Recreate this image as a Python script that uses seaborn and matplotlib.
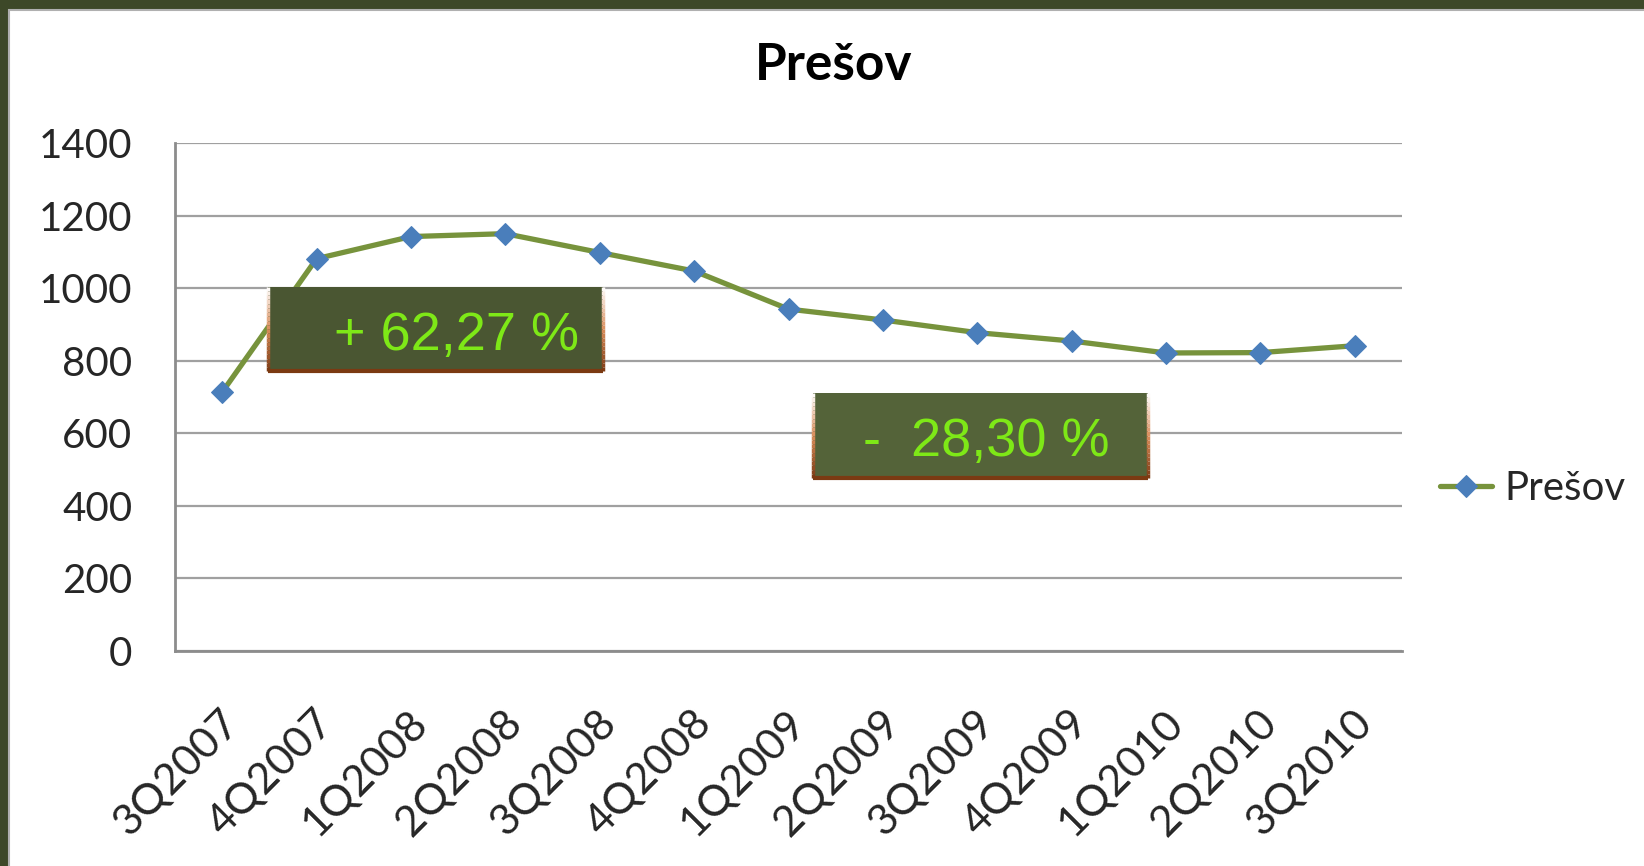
import numpy as np
import pandas as pd
import matplotlib
matplotlib.use("Agg")
import matplotlib.pyplot as plt
import seaborn as sns
from matplotlib.patches import Rectangle
from matplotlib.collections import LineCollection
import matplotlib.transforms as mtransforms

# ---- data ----
quarters = ["3Q2007", "4Q2007", "1Q2008", "2Q2008", "3Q2008", "4Q2008", "1Q2009",
            "2Q2009", "3Q2009", "4Q2009", "1Q2010", "2Q2010", "3Q2010"]
values = [713, 1081, 1142, 1150, 1098, 1047, 942, 912, 877, 854, 821, 822, 841]
series_name = "Prešov"
y_ticks = [0, 200, 400, 600, 800, 1000, 1200, 1400]
note_up = "+ 62,27 %"
note_down = "-  28,30 %"

sns.set_theme(style="white")
plt.rcParams["font.family"] = ["Lato", "DejaVu Sans"]

W, H = 1644, 866
fig = plt.figure(figsize=(W / 100, H / 100), dpi=100)
fig.patch.set_facecolor("#3d4828")

# white panel
fig.patches.append(Rectangle((9 / W, -0.05), 1.1, (H - 10) / H + 0.05, transform=fig.transFigure,
                             facecolor="white", edgecolor="#b0b0b0", linewidth=1.5, zorder=-5))

ax = fig.add_axes([175 / W, (H - 650.7) / H, (1402 - 175) / W, (650.7 - 143) / H])
ax.set_facecolor("none")
ax.set_zorder(2)

df = pd.DataFrame({"quarter": quarters, "value": values, "pos": np.arange(len(quarters))})
sns.lineplot(data=df, x="pos", y="value", ax=ax, color="#77933C", linewidth=3.8,
             marker="D", markersize=11, markerfacecolor="#4A7EBB", markeredgecolor="#4A7EBB",
             label=series_name, sort=False, zorder=3)

ax.set_xlim(-0.5, len(quarters) - 0.5)
ax.set_ylim(0, 1400)
ax.set_yticks(y_ticks)
ax.set_yticklabels([str(v) for v in y_ticks], fontsize=29)
ax.set_xticks(np.arange(len(quarters)))
ax.set_xticklabels(quarters, fontsize=31, rotation=45, ha="right", rotation_mode="default")
ax.set_xticks(np.arange(len(quarters) + 1) - 0.5, minor=True)
ax.tick_params(axis="x", which="major", length=0, pad=38)
ax.tick_params(axis="x", which="minor", length=15 * 0.72, width=2, color="#8c8c8c", direction="out")
ax.tick_params(axis="y", length=15 * 0.72, width=2, color="#8c8c8c", direction="out", pad=20)
offset = mtransforms.ScaledTranslation(24 / 100, 0, fig.dpi_scale_trans)
for lab in ax.get_xticklabels():
    lab.set_transform(lab.get_transform() + offset)
ax.set_xlabel("")
ax.set_ylabel("")
ax.grid(axis="y", color="#a0a0a0", linewidth=1.6)
ax.set_axisbelow(True)
for s in ["top", "right"]:
    ax.spines[s].set_visible(False)
for s in ["left", "bottom"]:
    ax.spines[s].set_color("#8c8c8c")
    ax.spines[s].set_linewidth(2)

ax.legend(loc="center left", bbox_to_anchor=(1440 / W, (H - 489) / H),
          bbox_transform=fig.transFigure, frameon=False, fontsize=29,
          handlelength=1.3, handletextpad=0.3, borderaxespad=0, borderpad=0)

fig.text(834 / W, 1 - 66 / H, "Prešov", ha="center", va="center", fontsize=37,
         fontweight="bold", color="black")

# annotation boxes
def note_box(x0, x1, y0, y1, face, text, tx, ty):
    ax.add_patch(Rectangle((x0, y0), x1 - x0, y1 - y0, facecolor=face, edgecolor="none",
                           zorder=5, clip_on=False))
    n = 20
    ys = np.linspace(y1, y0, n + 1)
    segs, colors = [], []
    c_top = np.array([1.0, 1.0, 1.0])
    c_mid = np.array([0.85, 0.55, 0.35])
    c_bot = np.array([0.48, 0.22, 0.07])
    for i in range(n):
        t = (i + 0.5) / n
        c = c_top + (c_mid - c_top) * (t * 2) if t < 0.5 else c_mid + (c_bot - c_mid) * (t - 0.5) * 2
        for xx in (x0, x1):
            segs.append([(xx, ys[i]), (xx, ys[i + 1])])
            colors.append(c)
    lc = LineCollection(segs, colors=colors, linewidths=2.5, zorder=6, clip_on=False)
    ax.add_collection(lc)
    ax.plot([x0, x1], [y0, y0], color="#7B3A12", linewidth=3, zorder=6, clip_on=False,
            solid_capstyle="butt")
    ax.text(tx, ty, text, ha="center", va="center", fontsize=39, color="#7EE817",
            family=["Liberation Sans", "DejaVu Sans"], zorder=7)

note_box(0.485, 4.03, 770, 1004, "#4a5632", note_up, 2.48, 868)
note_box(6.26, 9.81, 476, 710, "#546339", note_down, 8.09, 576)

fig.savefig("out.png", dpi=100, facecolor=fig.get_facecolor())
